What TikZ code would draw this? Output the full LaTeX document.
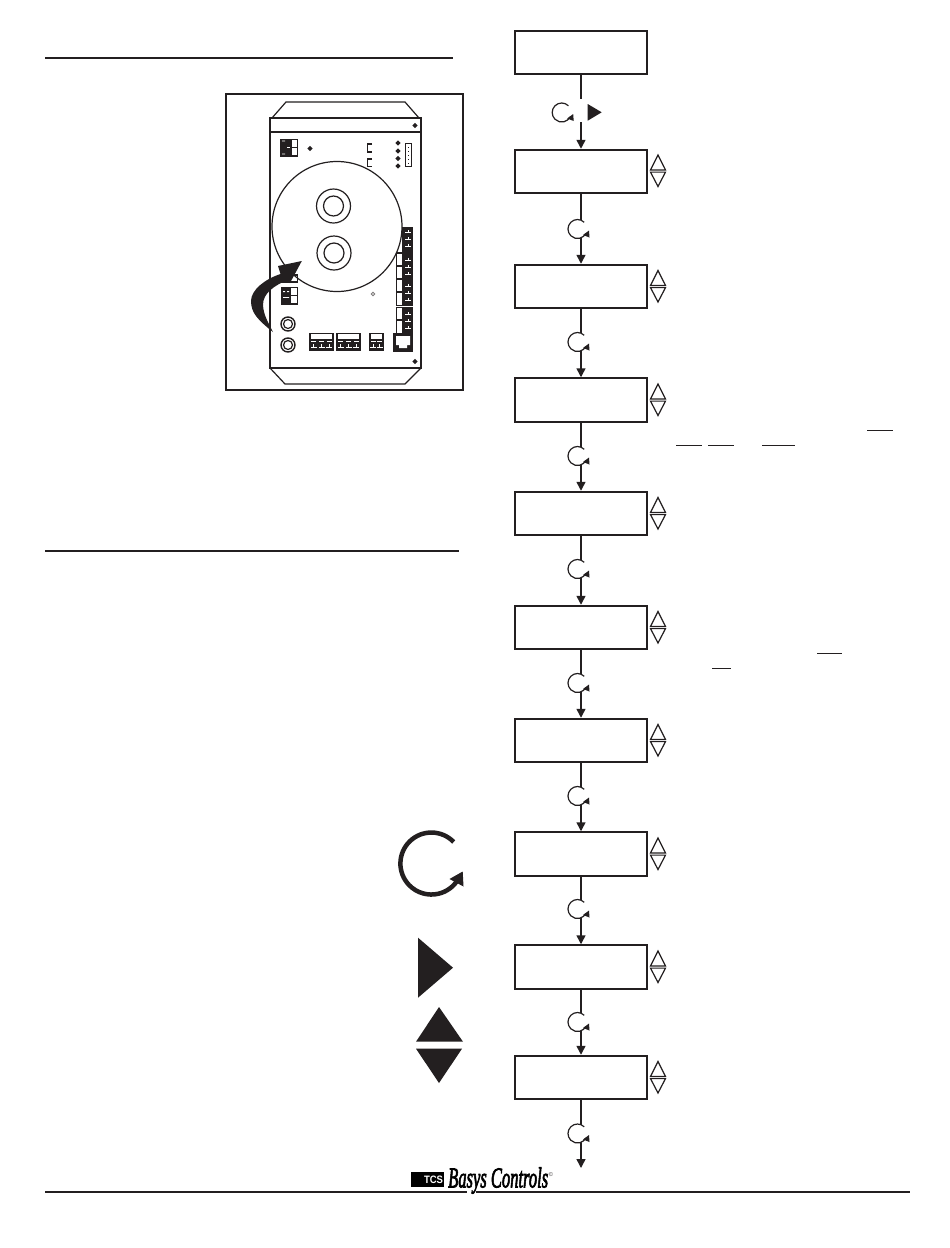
\documentclass[tikz,border=0pt]{standalone}
\usepackage{fontspec}
\usetikzlibrary{arrows.meta}
\setmainfont{Liberation Serif}
\newfontfamily\logosans{Liberation Sans}
\newfontfamily\logoserif[ItalicFeatures={FakeBold=3}]{Liberation Serif}
\definecolor{ink}{HTML}{231F20}
\tikzset{
  stepbox/.style={draw=ink,line width=2pt,fill=white,rectangle,inner sep=0pt,minimum width=132pt,minimum height=43.5pt},
  flow/.style={draw=ink,line width=1.5pt,-{Triangle[length=9pt,width=9pt]}},
  thick rule/.style={draw=ink,line width=2pt},
  bd/.style={draw=ink,line width=1.2pt},
  over/.style={draw=ink,line width=1pt},
  pad/.style={draw=ink,line width=1.2pt},
  spinner/.pic={
    \fill[white] (0,0) circle[radius=9.5];
    \draw[ink,line width=1.2pt] (-45:9.5) arc[start angle=-45,end angle=-332,radius=9.5];
    \fill[ink] (11.5,1.5) -- (5.5,6) -- (12,8.5) -- cycle;
  },
  updown/.pic={
    \draw[ink,line width=1.2pt,line join=miter] (-7.5,-1.1) -- (0,-16) -- (7.5,-1.1) -- cycle;
    \draw[ink,line width=1.2pt,line join=miter] (-7.5,1.1) -- (0,15.5) -- (7.5,1.1) -- cycle;
  },
  dotmark/.pic={\fill[ink] (-2.6,0) -- (0,-2.6) -- (2.6,0) -- (0,2.6) -- cycle;},
  jack/.pic={\draw[pad,line width=1.4pt] (0,0) circle[radius=7];\draw[pad,line width=1.2pt] (0,0) circle[radius=4.5];},
  ring/.pic={\draw[pad,line width=1.2pt] (0,0) circle[radius=17];\draw[pad,line width=1.2pt] (0,0) circle[radius=10];}
}
\begin{document}
\begin{tikzpicture}[x=1pt,y=-1pt]
\useasboundingbox (0,0) rectangle (950,1248);
\fill[white] (0,0) rectangle (950,1248);

% rules
\draw[thick rule] (45,57.5) -- (453,57.5);
\draw[thick rule] (45,550.5) -- (459,550.5);
\draw[thick rule] (45,1191.5) -- (467,1191.5);
\draw[thick rule] (476,1191.5) -- (910,1191.5);

% picture of the board
\draw[draw=ink,line width=2pt] (226,94) rectangle (463,390);
\draw[bd] (270,118) rectangle (421,368);
\draw[bd] (270,132) -- (421,132);
\draw[bd] (272,118) -- (286,102) -- (405,102) -- (419,118);
\draw[bd] (270,368) -- (285,384) -- (405,384) -- (421,368);
\pic at (415,125.5) {dotmark};
\pic at (310,148.5) {dotmark};
\pic at (398,143) {dotmark};
\pic at (398,151) {dotmark};
\pic at (398,158.5) {dotmark};
\pic at (398,166) {dotmark};
\pic at (415,361.5) {dotmark};
\draw[bd] (372,144) -- (367.5,144) -- (367.5,152) -- (372,152);
\draw[bd] (372,159) -- (367.5,159) -- (367.5,166.5) -- (372,166.5);
\draw[bd,line width=1pt] (405.5,143.5) rectangle (411.5,166.5);
\foreach \yy in {147,151,155,159,163}{\fill[ink] (408,\yy) rectangle (409,\yy+1);}

% terminal top left
\draw[bd] (280.5,139.5) rectangle (297.5,156);
\fill[ink] (280.5,139.5) rectangle (291,156);
\fill[white] (282,140.5) rectangle (285,141.3) (282,153.5) rectangle (285,154.3);
\fill[white] (287,147) rectangle (291,148);
\draw[bd] (291,139.5) -- (291,156);
\draw[bd] (291,147.5) -- (297.5,147.5);

% big transformer
\draw[pad] (337,226.5) circle[radius=65];
\pic at (333.5,206) {ring};
\pic at (334,253) {ring};

% right terminal column
\draw[bd] (396.5,253) rectangle (412.5,305.5);
\draw[bd] (396.5,279) -- (412.5,279);
\draw[bd] (396.5,307.5) rectangle (412.5,334);
\fill[ink] (402,227) rectangle (412.5,253);
\fill[ink] (403,253) rectangle (412.5,305);
\fill[ink] (403,308) rectangle (412.5,334);
\draw[bd] (402.5,253) -- (402.5,305);
\draw[bd] (402.5,308) -- (402.5,334);
\draw[bd] (396.5,266) -- (402.5,266) (396.5,292) -- (402.5,292) (396.5,320) -- (402.5,320);
\foreach \yy in {232,239,246,260,267,274,286,293,300,314,321,328}{
  \fill[white] (405,\yy) rectangle (411,\yy+1);
  \fill[white] (407.5,\yy-2) rectangle (408.3,\yy);
}

% left terminals
\draw[bd] (281.5,275) rectangle (297.5,282);
\draw[bd] (281.5,287.5) rectangle (297.5,304);
\fill[ink] (281.5,287.5) rectangle (291,304);
\fill[ink] (281.5,275) rectangle (291,282);
\fill[white] (283,291) rectangle (285,292) (287,291) rectangle (289,292) (283,297) rectangle (289,297.8);
\draw[bd] (291,295.5) -- (297.5,295.5);
\pic at (288,324) {jack};
\pic at (288,345) {jack};

% bottom terminals
\foreach \xa/\xb/\nn in {310/333/3,337/360/3,370/383/2}{
  \draw[bd] (\xa,333.5) rectangle (\xb,350);
  \fill[ink] (\xa,340) rectangle (\xb,350);
  \draw[bd] (\xa,340) -- (\xb,340);
  \foreach \i in {1,...,\nn}{
    \pgfmathsetmacro{\pp}{\xa+(\i-.5)*(\xb-\xa)/\nn}
    \fill[white] (\pp-2.5,341.3) rectangle (\pp+2.5,342.3);
    \fill[white] (\pp-.4,344) rectangle (\pp+.4,347);
    \fill[white] (\pp-3,346.5) rectangle (\pp+3,347.3);
  }
}
% phone jack
\fill[ink] (393,333) rectangle (413,352);
\fill[white] (396,336) -- (410,336) -- (410,345) -- (407,345) -- (407,348) -- (399,348) -- (399,345) -- (396,345) -- cycle;
\draw[ink!60,line width=.8pt] (373,294) circle[radius=1.8];

% curved arrow
\fill[ink] (273,332) .. controls (258,320) and (251,313) .. (251,301)
  .. controls (251,290) and (265,279) .. (280.5,274)
  -- (278,266) -- (301.8,261) -- (290,283) -- (287,280)
  .. controls (274,286) and (263,293) .. (263,305)
  .. controls (263.5,315) and (268,322) .. (273,332) -- cycle;

% flow boxes
\node[stepbox] (b1) at (581,52.5) {};
\node[stepbox] (b2) at (581,171.5) {};
\node[stepbox] (b3) at (581,286.5) {};
\node[stepbox] (b4) at (581,400) {};
\node[stepbox] (b5) at (581,513.5) {};
\node[stepbox] (b6) at (581,627.5) {};
\node[stepbox] (b7) at (581,740.5) {};
\node[stepbox] (b8) at (581,854) {};
\node[stepbox] (b9) at (581,967) {};
\node[stepbox] (b10) at (581,1077.5) {};
\coordinate (endpt) at (581,1168);

% connectors
\foreach \a/\b in {b1/b2,b2/b3,b3/b4,b4/b5,b5/b6,b6/b7,b7/b8,b8/b9,b9/b10,b10/endpt}{
  \draw[flow] (\a) -- (\b);
}
\foreach \a in {b1,b2,b3,b4,b5,b6,b7,b8,b9,b10}{\node[stepbox] at (\a) {};}

% first transition: knob and right arrow
\fill[white] (574,99) rectangle (588,122);
\pic at (561.7,112.5) {spinner};
\fill[ink] (587.7,104) -- (601.7,112.3) -- (587.7,120.7) -- cycle;

% knob marks on the others
\foreach \yy in {229,342,456,569,683,796,909,1022,1133.5}{
  \pic at (577.5,\yy) {spinner};
}
% arrows beside boxes
\foreach \yy in {171,286.5,400,513.5,627.5,740.5,854,967,1077.5}{
  \pic at (658,\yy) {updown};
}

% overlines
\draw[over] (867,430) -- (892.5,430);
\draw[over] (676,445) -- (701.5,445);
\draw[over] (708,445) -- (734,445);
\draw[over] (762,445) -- (795,445);
\draw[over] (817,653.3) -- (842,653.3);
\draw[over] (712,668.3) -- (731,668.3);

% legend icons
\draw[ink,line width=4.5pt] (453.7,842) arc[start angle=-44,end angle=-328,radius=31];
\fill[ink] (462.7,871.5) -- (449.5,879) -- (463.5,886.5) -- cycle;
\fill[ink] (418,937.7) -- (453,967.7) -- (418,997.7) -- cycle;
\fill[ink] (439,1007) -- (463,1041.7) -- (416,1041.7) -- cycle;
\fill[ink] (416,1048.7) -- (462,1048.7) -- (439,1083) -- cycle;

% logo
\fill[black] (411,1172) rectangle (443.5,1187);
\node[inner sep=0pt,text=white,font=\logosans\bfseries] (tcs) at (433.5,1179.7) {\resizebox{19pt}{7.5pt}{TCS}};
\node[inner sep=0pt,anchor=west,text=black] (brand) at (448,1180.5)
  {\resizebox{100pt}{20pt}{\logoserif\itshape Basys Controls}};
\node[inner sep=0pt,text=ink] (copy) at (551,1174.5) {\fontsize{6}{7}\selectfont ©};
\end{tikzpicture}
\end{document}
